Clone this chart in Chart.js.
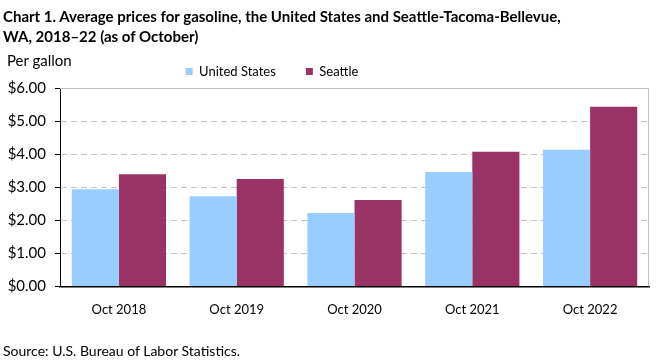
<!DOCTYPE html>
<html>
<head>
<meta charset="utf-8">
<script src="https://cdn.jsdelivr.net/npm/chart.js@4"></script>
<style>
  body { margin: 0; background: #fff; }
  #wrap { position: relative; width: 661px; height: 361px; overflow: hidden; font-family: Lato, sans-serif; color: #000; }
  #title { position: absolute; left: 3px; top: 6px; font-weight: bold; font-size: 15px; line-height: 20px; }
  #unit { position: absolute; left: 7px; top: 51px; font-size: 15px; }
  #source { position: absolute; left: 3px; top: 342px; font-size: 14px; }
  canvas { position: absolute; left: 0; top: 0; }
</style>
</head>
<body>
<div id="wrap">
  <canvas id="chart" width="661" height="361"></canvas>
  <div id="title">Chart 1. Average prices for gasoline, the United States and Seattle-Tacoma-Bellevue,<br>WA, 2018–22 (as of October)</div>
  <div id="unit">Per gallon</div>
  <div id="source">Source: U.S. Bureau of Labor Statistics.</div>
</div>
<script>
const categories = ['Oct 2018', 'Oct 2019', 'Oct 2020', 'Oct 2021', 'Oct 2022'];
const unitedStates = [2.94, 2.73, 2.22, 3.46, 4.13];
const seattle = [3.39, 3.25, 2.61, 4.07, 5.43];

// solid gray frame on top and right of the plot
const frame = {
    id: 'frame',
    afterLayout(chart) {
        // legend sits left of centre in the original
        const lg = chart.legend;
        const shift = 272 - (lg.left + lg.right) / 2;
        lg.left += shift;
        lg.right += shift;
    },
    afterDraw(chart) {
        const a = chart.chartArea;
        const ctx = chart.ctx;
        ctx.save();
        ctx.strokeStyle = '#bfbfbf';
        ctx.lineWidth = 1;
        ctx.beginPath();
        ctx.moveTo(a.left, a.top + 0.5);
        ctx.lineTo(a.right - 0.5, a.top + 0.5);
        ctx.lineTo(a.right - 0.5, a.bottom);
        ctx.stroke();
        ctx.restore();
    }
};

new Chart(document.getElementById('chart'), {
    type: 'bar',
    data: {
        labels: categories,
        datasets: [
            { label: 'United States', data: unitedStates, backgroundColor: '#99ccff' },
            { label: 'Seattle', data: seattle, backgroundColor: '#993366' }
        ]
    },
    options: {
        responsive: false,
        animation: false,
        layout: { padding: { left: 0, right: 12, top: 35, bottom: 35 } },
        datasets: { bar: { categoryPercentage: 0.8, barPercentage: 1.0 } },
        plugins: {
            legend: {
                labels: {
                    boxWidth: 7, boxHeight: 7, padding: 30,
                    color: '#000',
                    font: { family: 'Lato', size: 13 }
                }
            },
            tooltip: { enabled: false }
        },
        scales: {
            x: {
                grid: { display: false },
                border: { color: '#000', width: 1.5 },
                ticks: { color: '#000', font: { family: 'Lato', size: 13 }, padding: 8 }
            },
            y: {
                min: 0, max: 6,
                afterFit(scale) { scale.width = 60; },
                grid: { color: '#c0c0c0', tickColor: '#000', tickLength: 5 },
                border: { color: '#000', dash: [6, 4] },
                ticks: {
                    stepSize: 1, color: '#000', padding: 9,
                    font: { family: 'Lato', size: 15 },
                    callback: v => '$' + v.toFixed(2)
                }
            }
        }
    },
    plugins: [frame]
});
</script>
</body>
</html>
